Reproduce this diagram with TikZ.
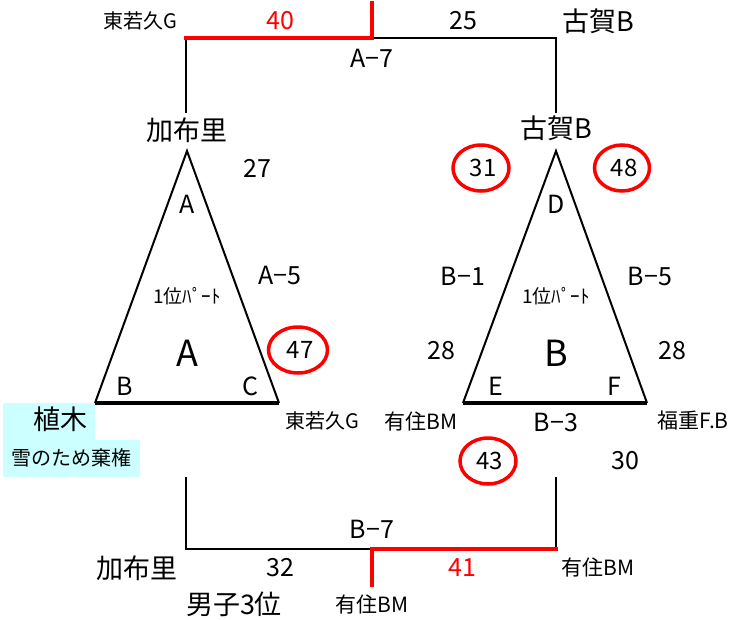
\documentclass[tikz,border=0pt]{standalone}
\usepackage{fontspec}
\setmainfont{Noto Sans CJK JP}
\usetikzlibrary{shapes.geometric}
\definecolor{myred}{RGB}{255,0,0}
\definecolor{mycyan}{RGB}{204,255,255}
\newcommand{\fsz}[1]{\fontsize{#1}{#1}\selectfont}
\tikzset{
  lbl/.style={inner sep=0pt, font=\fsz{25}},
  sm/.style={inner sep=0pt, font=\fsz{20}},
  md/.style={inner sep=0pt, font=\fsz{21}},
  nm/.style={inner sep=0pt, font=\fsz{27}},
  big/.style={inner sep=0pt, font=\fsz{36}},
  corner/.style={inner sep=0pt, font=\fsz{25}},
  part/.style={inner sep=0pt, font=\fsz{19}},
  bk/.style={line width=2.5pt, black},
  rd/.style={line width=4pt, myred},
  tri/.style={line width=2pt, line join=miter},
  base/.style={line width=3.5pt},
  circ/.style={ellipse, draw=myred, line width=3.5pt, minimum width=#1, minimum height=46pt, inner sep=0pt, font=\fsz{24}},
}
\begin{document}
\begin{tikzpicture}[x=1pt,y=-1pt]
\useasboundingbox (0,0) rectangle (736,619);
% top bracket
\coordinate (tl) at (186,113);
\coordinate (tlc) at (186,38);
\coordinate (tm) at (372,38);
\coordinate (tmt) at (372,3);
\coordinate (trc) at (556,38);
\coordinate (tr) at (556,113);
\draw[bk] (tl) -- (tlc);
\draw[bk] (tm) -- (trc) -- (tr);
\draw[rd, line cap=rect] (tlc) -- (tm) -- (tmt);
\node[sm] (t1) at (140,21) {東若久G};
\node[lbl, text=myred] (t2) at (280,21) {40};
\node[lbl] (t3) at (463,21) {25};
\node[nm] (t4) at (598,21) {古賀B};
\node[lbl] (t5) at (372,58) {A−7};
% triangle A
\coordinate (aA) at (187,151);
\coordinate (aB) at (95,403);
\coordinate (aC) at (279,403);
\draw[tri] (aB) -- (aA) -- (aC);
\draw[base] (aB) -- (aC);
\node[nm] (ka) at (187,130) {加布里};
\node[corner] (la) at (187,204) {A};
\node[part] (pa) at (187,296) {1位ﾊﾟｰﾄ};
\node[big] (ba) at (187,353) {A};
\node[corner] (lb) at (125,386) {B};
\node[corner] (lc) at (250,386) {C};
\node[lbl] (n27) at (257,168) {27};
\node[lbl] (a5) at (280,275) {A−5};
\node[circ=59pt] (n47) at (298,350) {\hspace*{4pt}47};
\node[sm] (hg) at (322,421) {東若久G};
% cyan box
\fill[mycyan] (3,403) rectangle (95,440);
\fill[mycyan] (3,440) rectangle (140,477);
\node[nm] (ue) at (60,419) {植木};
\node[sm] (yu) at (71,458) {雪のため棄権};
% triangle B
\coordinate (bD) at (556,151);
\coordinate (bE) at (463,403);
\coordinate (bF) at (647,403);
\draw[tri] (bE) -- (bD) -- (bF);
\draw[base] (bE) -- (bF);
\node[nm] (kb) at (556,128) {古賀B};
\node[circ=56pt] (n31) at (481,168) {\hspace*{4pt}31};
\node[circ=55pt] (n48) at (622,168) {\hspace*{4pt}48};
\node[corner] (ld) at (556,204) {D};
\node[lbl] (b1) at (463,276) {B−1};
\node[lbl] (b5) at (650,276) {B−5};
\node[part] (pb) at (556,296) {1位ﾊﾟｰﾄ};
\node[lbl] (n28a) at (441,351) {28};
\node[big] (bb) at (556,353) {B};
\node[lbl] (n28b) at (672,351) {28};
\node[corner] (le) at (496,386) {E};
\node[corner] (lf) at (614,386) {F};
\node[md] (ar1) at (421,421) {有住BM};
\node[lbl] (b3) at (556,422) {B−3};
\node[md] (fk) at (693,421) {福重F.B};
\node[circ=56pt] (n43) at (488,461) {\hspace*{3pt}43};
\node[lbl] (n30) at (625,461) {30};
% bottom bracket
\coordinate (bl) at (186,477);
\coordinate (blc) at (186,549);
\coordinate (bm) at (372,549);
\coordinate (bmb) at (372,585);
\coordinate (brc) at (556,549);
\coordinate (br) at (556,477);
\draw[bk] (bl) -- (blc) -- (bm);
\draw[bk] (brc) -- (br);
\draw[rd, line cap=rect] (bmb) -- (bm) -- (brc);
\node[lbl] (b7) at (372,529) {B−7};
\node[nm] (kb2) at (137,568) {加布里};
\node[lbl] (n32) at (280,568) {32};
\node[lbl, text=myred] (n41) at (462,568) {41};
\node[md] (ar2) at (598,567) {有住BM};
\node[nm] (dan) at (234,604) {男子3位};
\node[md] (ar3) at (372,604) {有住BM};
\end{tikzpicture}
\end{document}
